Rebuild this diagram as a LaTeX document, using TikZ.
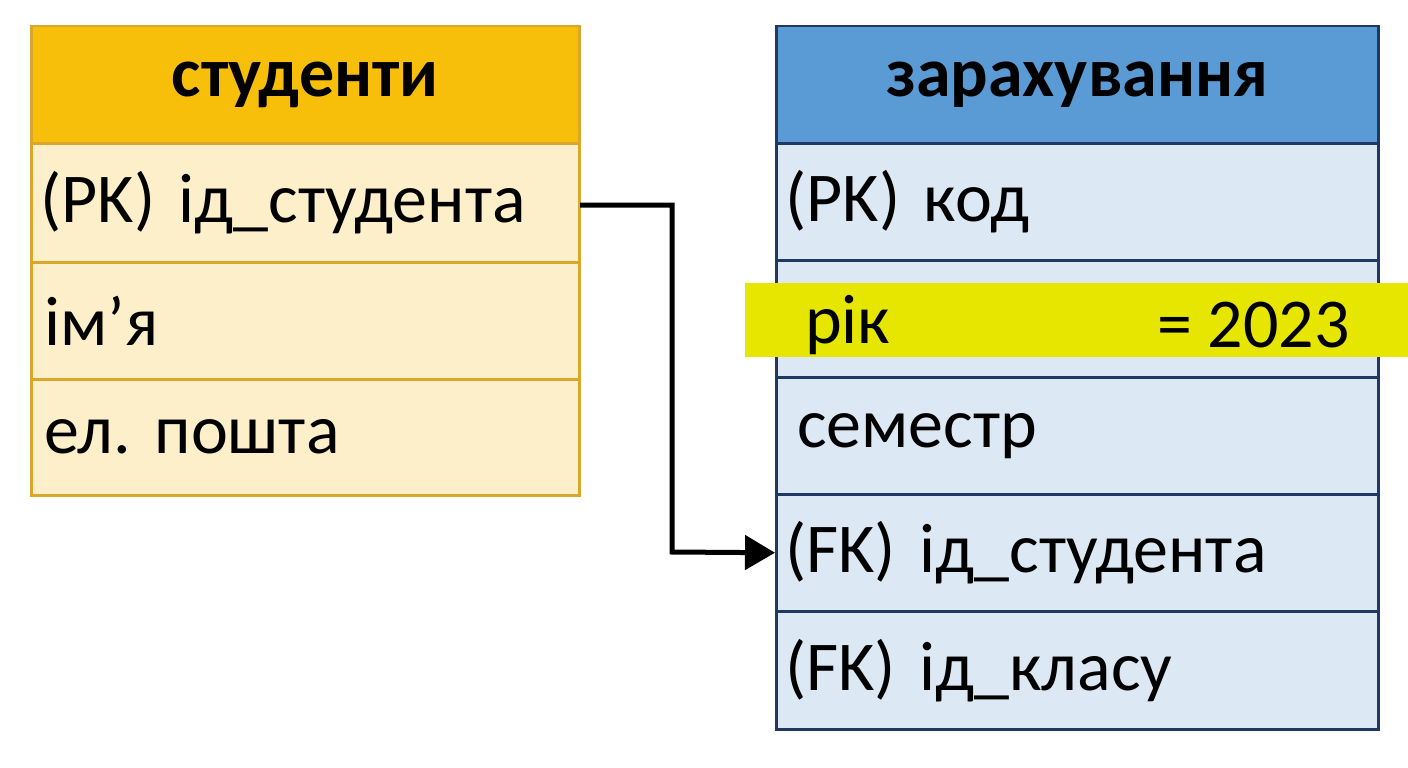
\documentclass[tikz,border=0pt]{standalone}
\usepackage{fontspec}
\setmainfont{Carlito}
\usetikzlibrary{arrows.meta}
\definecolor{lhead}{HTML}{F7BF0A}
\definecolor{lrow}{HTML}{FDEFC9}
\definecolor{lborder}{HTML}{D9A82A}
\definecolor{rhead}{HTML}{5B9BD5}
\definecolor{rrow}{HTML}{DCE9F5}
\definecolor{rborder}{HTML}{1F3864}
\definecolor{hl}{HTML}{E6E600}
\frenchspacing
\begin{document}
\begin{tikzpicture}[x=1pt,y=-1pt,
  tf/.style={font=\fontsize{70}{80}\selectfont},
  lcell/.style={draw=lborder,line width=2.5pt,fill=lrow,minimum width=548pt,anchor=north west,inner sep=0pt,align=left,text width=530pt,tf},
  rcell/.style={draw=rborder,line width=2.5pt,fill=rrow,minimum width=602pt,anchor=north west,inner sep=0pt,text width=584pt,tf},
  arr/.style={line width=5pt,-{Triangle[length=30pt,width=34pt]}}]
\useasboundingbox (0,0) rectangle (1408,768);
% left table
\node[lcell,fill=lhead,minimum height=117pt,align=center,font=\fontsize{70}{80}\selectfont\bfseries] (lh) at (30,25) {студенти};
\node[lcell,minimum height=119pt] (l1) at (30,142) {(PK) ід\_студента};
\node[lcell,minimum height=117pt] (l2) at (30,261) {\hspace*{4pt}ім’я};
\node[lcell,minimum height=116pt] (l3) at (30,378) {\hspace*{4pt}ел. пошта};
% right table
\node[rcell,fill=rhead,minimum height=117pt,align=center,font=\fontsize{70}{80}\selectfont\bfseries] (rh) at (775,25) {зарахування};
\node[rcell,minimum height=117pt,align=left] (r1) at (775,142) {(PK) код};
\node[rcell,minimum height=117pt,align=left] (r2) at (775,259) {};
\node[rcell,minimum height=117pt,align=left] (r3) at (775,376) {\hspace*{12pt}семестр};
\node[rcell,minimum height=117pt,align=left] (r4) at (775,493) {(FK) ід\_студента};
\node[rcell,minimum height=118pt,align=left] (r5) at (775,610) {(FK) ід\_класу};
\fill[hl] (745,283) rectangle (1408,357);
\node[anchor=west,inner sep=0pt,tf] (rk) at (805,325) {рік};
\node[anchor=east,inner sep=0pt,tf] (rv) at (1350,325) {= 2023};
\coordinate (a) at (672,205);
\coordinate (b) at (672,552);
\draw[arr] (580,205) -- (a) -- (b) -- (r4.west);
\end{tikzpicture}
\end{document}
